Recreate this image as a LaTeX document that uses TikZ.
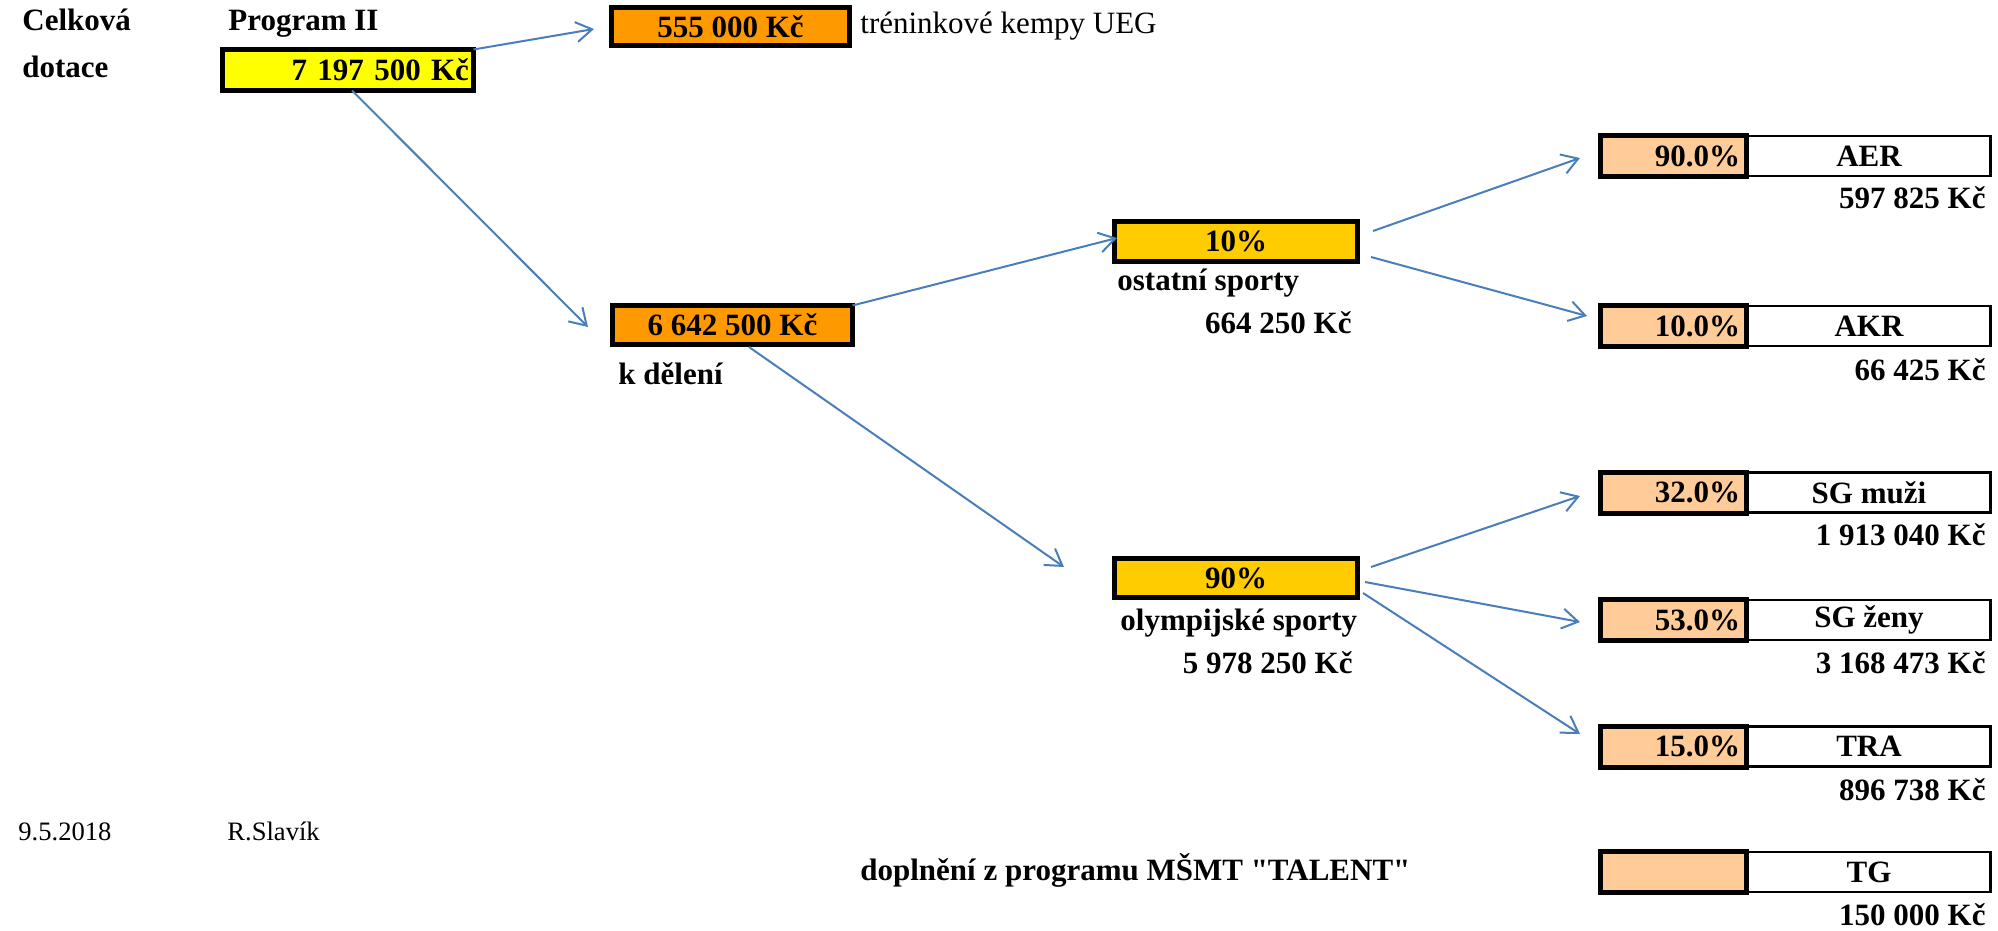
\documentclass[tikz,border=0pt]{standalone}
\usepackage{fontspec}
\setmainfont{Liberation Serif}
\newfontfamily\qfont{Liberation Serif}
\usetikzlibrary{arrows.meta,calc}
\definecolor{cyel}{HTML}{FFFF00}
\definecolor{corange}{HTML}{FF9900}
\definecolor{cgold}{HTML}{FFCC00}
\definecolor{csalmon}{HTML}{FFCC99}
\definecolor{carrow}{HTML}{4A7EBB}
\begin{document}
\begin{tikzpicture}[x=0.5pt,y=-0.5pt,
  bigfont/.style={font=\bfseries\fontsize{15.5}{18}\selectfont},
  smallfont/.style={font=\fontsize{13.3}{16}\selectfont},
  regfont/.style={font=\fontsize{15.5}{18}\selectfont},
  thickbox/.style={draw=black, line width=2.5pt, inner sep=0pt, outer sep=0pt, bigfont},
  pctbox/.style={thickbox, fill=csalmon, minimum width=73pt, minimum height=20.5pt,
     inner xsep=3.25pt, text width=66.5pt, align=right},
  namebox/.style={draw=black, line width=1.4pt, fill=white, inner sep=0pt, outer sep=0pt,
     minimum width=121.25pt, minimum height=20pt, bigfont},
  lbl/.style={inner sep=0pt, bigfont},
  conn/.style={draw=carrow, line width=1pt, -{Straight Barb[length=8pt,width=10pt]}}
]
\useasboundingbox (0,0) rectangle (1998,931);

% left labels
\node[lbl, anchor=base west] (celk) at (22,31) {Celková};
\node[lbl, anchor=base west] (dot) at (22,78) {dotace};
\node[lbl, anchor=base west] (prog) at (228,31) {Program II};

% main boxes
\node[thickbox, fill=cyel, minimum width=125.5pt, minimum height=20.5pt,
      inner xsep=2.25pt, text width=121pt, align=right] (tot) at (348,70) {7 197 500 Kč};
\node[thickbox, fill=corange, minimum width=119pt, minimum height=19pt] (ueg) at (730.5,26.5) {555 000 Kč};
\node[lbl, regfont, anchor=base west] (uegl) at (860,34) {tréninkové kempy UEG};
\node[thickbox, fill=corange, minimum width=120pt, minimum height=19.5pt] (del) at (732.5,325) {6 642 500 Kč};
\node[lbl, anchor=base west] (dell) at (618,384) {k dělení};
\node[thickbox, fill=cgold, minimum width=121.5pt, minimum height=20pt] (ost) at (1236,241.5) {10\%};
\node[lbl, anchor=base west] (ostl) at (1117,290) {ostatní sporty};
\node[lbl, anchor=base east] (osta) at (1352,333) {664 250 Kč};
\node[thickbox, fill=cgold, minimum width=121.5pt, minimum height=19.5pt] (oly) at (1236,578) {90\%};
\node[lbl, anchor=base west] (olyl) at (1120,630) {olympijské sporty};
\node[lbl, anchor=base east] (olya) at (1353,673) {5 978 250 Kč};

% right boxes
\node[namebox] (aern) at (1869,156) {AER};
\node[pctbox] (aer) at (1673.5,156) {90.0\%};
\node[lbl, anchor=base east] (aera) at (1986,208) {597 825 Kč};

\node[namebox] (akrn) at (1869,326) {AKR};
\node[pctbox] (akr) at (1673.5,326) {10.0\%};
\node[lbl, anchor=base east] (akra) at (1986,380) {66 425 Kč};

\node[namebox] (sgmn) at (1869,492.5) {SG muži};
\node[pctbox] (sgm) at (1673.5,492.5) {32.0\%};
\node[lbl, anchor=base east] (sgma) at (1986,545) {1 913 040 Kč};

\node[namebox] (sgzn) at (1869,620) {SG ženy};
\node[pctbox] (sgz) at (1673.5,620) {53.0\%};
\node[lbl, anchor=base east] (sgza) at (1986,673) {3 168 473 Kč};

\node[namebox] (tran) at (1869,746.5) {TRA};
\node[pctbox] (tra) at (1673.5,746.5) {15.0\%};
\node[lbl, anchor=base east] (traa) at (1986,800) {896 738 Kč};

\node[namebox] (tgn) at (1869,872) {TG};
\node[pctbox] (tg) at (1673.5,872) {};
\node[lbl, anchor=base east] (tga) at (1986,925) {150 000 Kč};

\node[lbl, anchor=base west] (dopl) at (860,880) {doplnění z programu MŠMT {\qfont\bfseries "TALENT"}};

% footer
\node[inner sep=0pt, smallfont, anchor=base west] (date) at (18,840) {9.5.2018};
\node[inner sep=0pt, smallfont, anchor=base west] (auth) at (227,840) {R.Slavík};

% connectors
\draw[conn] (tot.north east) -- ($(ueg.west)+(-17.5,2.5)$);
\draw[conn] ($(tot.south)+(4,0)$) -- ($(del.west)+(-24.5,2)$);
\draw[conn] (del.north east) -- ($(ost.west)+(2.5,-3.5)$);
\draw[conn] ($(del.south)+(16.5,2.5)$) -- ($(oly.west)+(-50.5,-11)$);
\draw[conn] ($(ost.east)+(15.5,-10.5)$) -- ($(aer.west)+(-20.5,2)$);
\draw[conn] ($(ost.east)+(13.5,15.5)$) -- ($(akr.west)+(-13.5,-10)$);
\draw[conn] ($(oly.east)+(13.5,-11)$) -- ($(sgm.west)+(-20.5,3.5)$);
\draw[conn] ($(oly.east)+(7.5,4)$) -- ($(sgz.west)+(-20.5,2)$);
\draw[conn] ($(oly.east)+(5.5,15)$) -- ($(tra.west)+(-20.5,-12.5)$);
\end{tikzpicture}
\end{document}
